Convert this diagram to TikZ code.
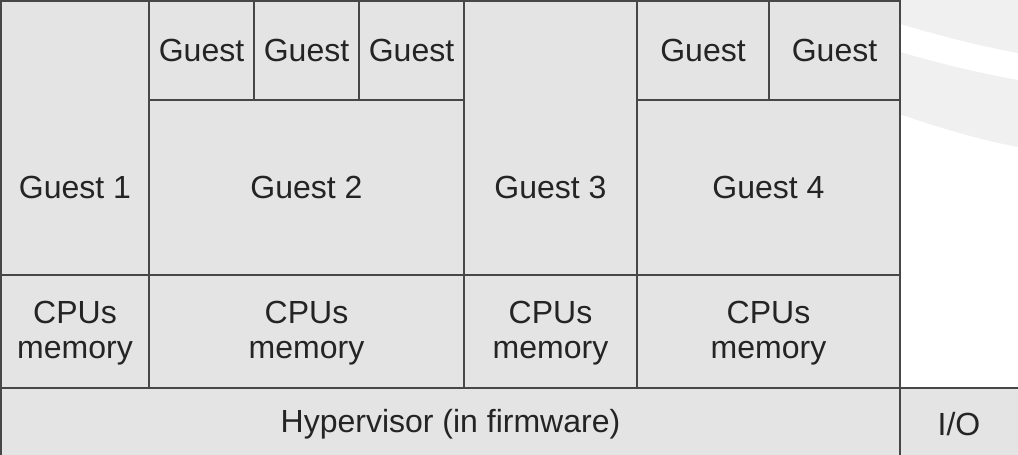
\documentclass[tikz,border=0pt]{standalone}
\usepackage{fontspec}
\setmainfont{Liberation Sans}
\definecolor{boxfill}{HTML}{E4E4E4}
\definecolor{boxline}{HTML}{474747}
\definecolor{txt}{HTML}{242424}
\definecolor{wm}{HTML}{F0F0F0}
\begin{document}
\begin{tikzpicture}[x=1pt,y=-1pt,
  box/.style={draw=boxline, fill=boxfill, line width=1.6pt, anchor=north west, inner sep=0pt, outer sep=0pt},
  lab/.style={text=txt, font=\fontsize{32}{35}\selectfont, align=center, inner sep=0pt}]
\useasboundingbox (0,0) rectangle (1018,455);
\clip (0,0) rectangle (1018,455);
% faint background arcs
\fill[wm] (890,0) -- (1018,0) -- (1018,53) .. controls (980,46) and (940,36) .. (890,21) -- cycle;
\fill[wm] (890,49) .. controls (940,64) and (980,73) .. (1018,80) -- (1018,147) .. controls (980,140) and (940,128) .. (890,111) -- cycle;
% guests
\node[box, minimum width=148pt, minimum height=274pt] (g1) at (1,1) {};
\node[box, minimum width=105pt, minimum height=99pt] (g2a) at (149,1) {};
\node[box, minimum width=105pt, minimum height=99pt] (g2b) at (254,1) {};
\node[box, minimum width=105pt, minimum height=99pt] (g2c) at (359,1) {};
\node[box, minimum width=315pt, minimum height=175pt] (g2) at (149,100) {};
\node[box, minimum width=173pt, minimum height=274pt] (g3) at (464,1) {};
\node[box, minimum width=132pt, minimum height=99pt] (g4a) at (637,1) {};
\node[box, minimum width=131pt, minimum height=99pt] (g4b) at (769,1) {};
\node[box, minimum width=263pt, minimum height=175pt] (g4) at (637,100) {};
% cpu/memory row
\node[box, minimum width=148pt, minimum height=113pt] (c1) at (1,275) {};
\node[box, minimum width=315pt, minimum height=113pt] (c2) at (149,275) {};
\node[box, minimum width=173pt, minimum height=113pt] (c3) at (464,275) {};
\node[box, minimum width=263pt, minimum height=113pt] (c4) at (637,275) {};
% hypervisor and I/O
\node[box, minimum width=899pt, minimum height=75pt] (hv) at (1,388) {};
\node[box, minimum width=125pt, minimum height=75pt] (io) at (900,388) {};
% labels
\node[lab] (t2a) at (g2a.center) {Guest};
\node[lab] (t2b) at (g2b.center) {Guest};
\node[lab] (t2c) at (g2c.center) {Guest};
\node[lab] (t4a) at (g4a.center) {Guest};
\node[lab] (t4b) at (g4b.center) {Guest};
\node[lab] (t2) at (g2.center) {Guest 2};
\node[lab] (t4) at (g4.center) {Guest 4};
\node[lab] (t1) at (g1.center |- g2.center) {Guest 1};
\node[lab] (t3) at (g3.center |- g2.center) {Guest 3};
\node[lab] (tc1) at ([yshift=-2pt]c1.center) {CPUs\\memory};
\node[lab] (tc2) at ([yshift=-2pt]c2.center) {CPUs\\memory};
\node[lab] (tc3) at ([yshift=-2pt]c3.center) {CPUs\\memory};
\node[lab] (tc4) at ([yshift=-2pt]c4.center) {CPUs\\memory};
\node[lab] (thv) at (450.5,424) {Hypervisor (in firmware)};
\node[lab] (tio) at (959,424) {I/O};
\end{tikzpicture}
\end{document}
